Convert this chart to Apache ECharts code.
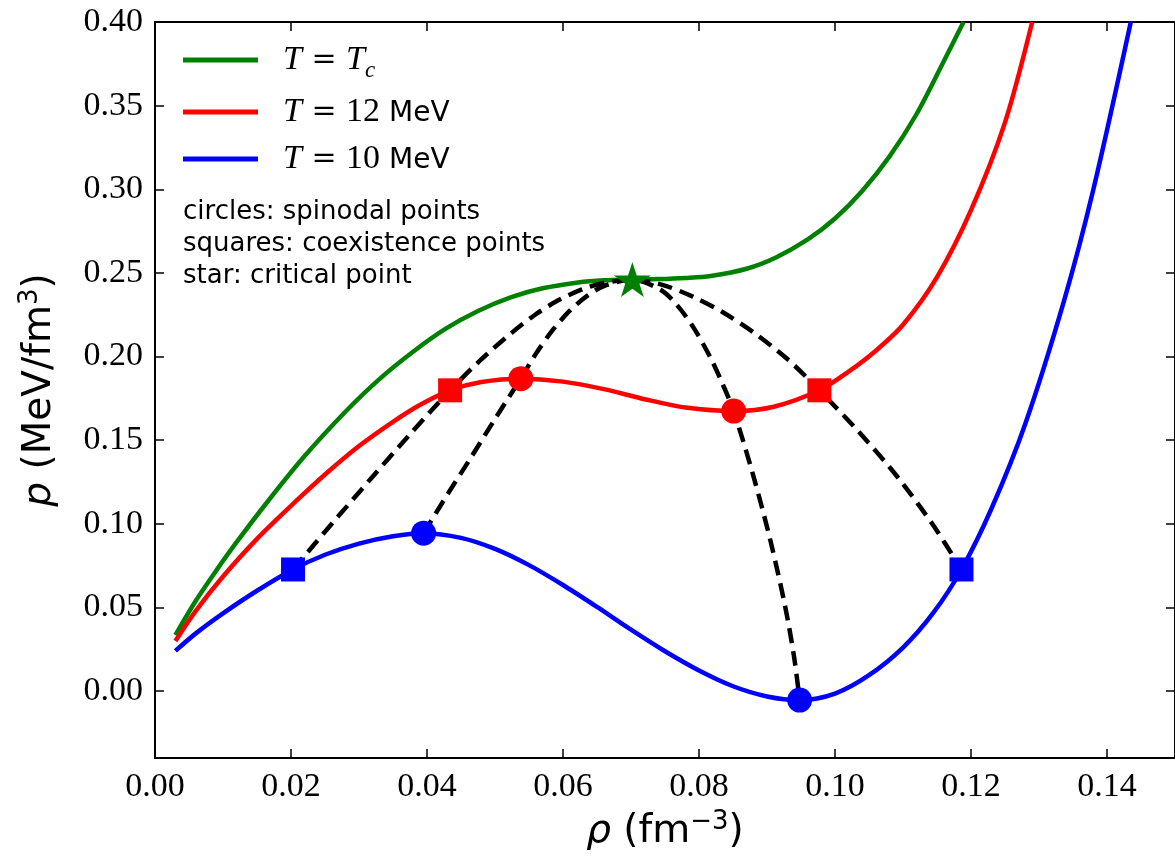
<!DOCTYPE html>
<html>
<head>
<meta charset="utf-8">
<script src="https://cdn.jsdelivr.net/npm/echarts@6/dist/echarts.min.js"></script>
<style>
  html, body { margin: 0; padding: 0; background: #fff; }
  #chart { width: 1175px; height: 859px; }
</style>
</head>
<body>
<div id="chart"></div>
<script>
// Isotherms p(rho) of nuclear matter
const rhoTc = [0.003, 0.006, 0.009, 0.012, 0.0166, 0.022, 0.028, 0.033, 0.038, 0.0427, 0.0475, 0.0524, 0.057, 0.0622, 0.066, 0.0702, 0.074, 0.078, 0.0817, 0.087, 0.0914, 0.096, 0.100, 0.104, 0.108, 0.112, 0.116, 0.1189];
const pTc   = [0.0335, 0.054, 0.072, 0.089, 0.1135, 0.1405, 0.167, 0.1865, 0.203, 0.2165, 0.2272, 0.2355, 0.2408, 0.2443, 0.2456, 0.246, 0.2463, 0.2470, 0.2482, 0.2525, 0.2594, 0.2700, 0.2825, 0.2990, 0.3195, 0.3450, 0.3765, 0.400];

const rho12 = [0.003, 0.006, 0.010, 0.015, 0.0208, 0.025, 0.030, 0.035, 0.039, 0.0434, 0.048, 0.0538, 0.060, 0.066, 0.072, 0.078, 0.0851, 0.091, 0.0977, 0.102, 0.106, 0.110, 0.115, 0.120, 0.125, 0.129];
const p12   = [0.030, 0.048, 0.0685, 0.091, 0.1138, 0.1295, 0.1465, 0.161, 0.1712, 0.1798, 0.1848, 0.1868, 0.1850, 0.1805, 0.1745, 0.1695, 0.1674, 0.1700, 0.1798, 0.191, 0.2035, 0.219, 0.2475, 0.2875, 0.340, 0.400];

const rho10 = [0.003, 0.006, 0.010, 0.015, 0.0203, 0.025, 0.030, 0.035, 0.0395, 0.045, 0.050, 0.055, 0.060, 0.065, 0.070, 0.075, 0.080, 0.085, 0.090, 0.0948, 0.100, 0.105, 0.110, 0.1145, 0.1186, 0.123, 0.128, 0.1337, 0.138, 0.1435];
const p10   = [0.024, 0.0345, 0.0465, 0.060, 0.0727, 0.0815, 0.0882, 0.0926, 0.0944, 0.0916, 0.0850, 0.0753, 0.0634, 0.0503, 0.0367, 0.0238, 0.0123, 0.0029, -0.0032, -0.0054, -0.0015, 0.0095, 0.026, 0.047, 0.0727, 0.109, 0.160, 0.2336, 0.300, 0.400];

// Coexistence (binodal) curve through the squares and the critical point
const rhoCoex = [0.0203, 0.0260, 0.0318, 0.0376, 0.0434, 0.0479, 0.0524, 0.0559, 0.0593, 0.0627, 0.0660, 0.0702, 0.0745, 0.0790, 0.0835, 0.0880, 0.0930, 0.0977, 0.1035, 0.1092, 0.1143, 0.1186];
const pCoex   = [0.0727, 0.1000, 0.1272, 0.1540, 0.1798, 0.1980, 0.2140, 0.2250, 0.2336, 0.2400, 0.2440, 0.2460, 0.2430, 0.2360, 0.2265, 0.2145, 0.1985, 0.1798, 0.1550, 0.1280, 0.1000, 0.0727];

// Spinodal curve through the circles and the critical point
const rhoSpin = [0.0395, 0.0430, 0.0466, 0.0502, 0.0538, 0.0560, 0.0585, 0.0610, 0.0635, 0.0660, 0.0702, 0.0744, 0.0768, 0.0792, 0.0817, 0.0836, 0.0851, 0.0879, 0.0905, 0.0927, 0.0940, 0.0948];
const pSpin   = [0.0944, 0.1175, 0.1405, 0.1640, 0.1868, 0.2016, 0.2159, 0.2274, 0.2361, 0.2421, 0.2460, 0.2398, 0.2306, 0.2173, 0.1992, 0.1824, 0.1674, 0.1300, 0.0900, 0.0500, 0.0200, -0.0054];

// Marked points
const spin10 = [[0.0395, 0.0944], [0.0948, -0.0054]];
const spin12 = [[0.0538, 0.1868], [0.0851, 0.1674]];
const coex10 = [[0.0203, 0.0727], [0.1186, 0.0727]];
const coex12 = [[0.0434, 0.1798], [0.0977, 0.1798]];
const critical = [[0.0702, 0.246]];

const xTicks = [0.00, 0.02, 0.04, 0.06, 0.08, 0.10, 0.12, 0.14];
const yTicks = [0.00, 0.05, 0.10, 0.15, 0.20, 0.25, 0.30, 0.35, 0.40];

const zip = (xs, ys) => xs.map((x, i) => [x, ys[i]]);

const GREEN = '#008000', RED = '#ff0000', BLUE = '#0000ff';
const SERIF = 'Liberation Serif';
const SANS = 'DejaVu Sans';
const STAR = 'path://M50,0 L61.2,34.5 L97.6,34.5 L68.2,55.9 L79.4,90.5 L50,69.1 L20.6,90.5 L31.8,55.9 L2.4,34.5 L38.8,34.5 Z';

const chart = echarts.init(document.getElementById('chart'), null, { renderer: 'canvas' });

const tickStyle = { inside: true, length: 9, lineStyle: { color: '#000', width: 1.5 } };
const lineAxis = { show: true, onZero: false, lineStyle: { color: '#000', width: 2 } };

const LH = 44;
const legendRich = {
  t: { fontFamily: SERIF, fontStyle: 'italic', fontSize: 34, color: '#000', lineHeight: LH },
  eq: { fontFamily: 'DejaVu Serif', fontSize: 30, color: '#000', lineHeight: LH },
  r: { fontFamily: SERIF, fontSize: 34, color: '#000', lineHeight: LH },
  sub: { fontFamily: SERIF, fontStyle: 'italic', fontSize: 23, color: '#000', verticalAlign: 'bottom', lineHeight: LH },
  s: { fontFamily: SANS, fontSize: 28, color: '#000', lineHeight: LH, padding: [3, 0, 0, 0] }
};
const legendText = {
  'Tc': '{t|T}{eq| = }{t|T}{sub|c}',
  '12': '{t|T}{eq| = }{r|12}{s| MeV}',
  '10': '{t|T}{eq| = }{r|10}{s| MeV}'
};

const nameRich = {
  i: { fontFamily: SANS, fontStyle: 'italic', fontSize: 39, color: '#000' },
  s: { fontFamily: SANS, fontSize: 39, color: '#000' },
  sup: { fontFamily: SANS, fontSize: 26, color: '#000', verticalAlign: 'top', lineHeight: 46 }
};

const lineSeries = (name, data, color) => ({
  name, type: 'line', data, smooth: 0.3, showSymbol: false, symbol: 'none',
  lineStyle: { color, width: 4.5 }, itemStyle: { color }, z: 2, clip: true
});
const dashSeries = (name, data) => ({
  name, type: 'line', data, smooth: 0.3, showSymbol: false, symbol: 'none',
  lineStyle: { color: '#000', width: 4.5, type: [15, 8] }, z: 3, clip: true
});
const markSeries = (name, data, color, symbol, size) => ({
  name, type: 'scatter', data, symbol, symbolSize: size,
  itemStyle: { color, opacity: 1 }, z: 5
});

chart.setOption({
  animation: false,
  backgroundColor: '#fff',
  grid: { left: 155, top: 22, width: 1026, height: 736, containLabel: false },
  xAxis: [
    {
      type: 'value', min: 0, max: 0.15, position: 'bottom',
      axisLine: lineAxis, splitLine: { show: false },
      axisTick: Object.assign({ customValues: xTicks }, tickStyle),
      axisLabel: { customValues: xTicks, formatter: v => v.toFixed(2), fontFamily: SERIF, fontSize: 34, color: '#000', margin: 12 },
      name: '{i|ρ}{s| (fm}{sup|−3}{s|)}', nameLocation: 'middle', nameGap: 50,
      nameTextStyle: { rich: nameRich }
    },
    {
      type: 'value', min: 0, max: 0.15, position: 'top',
      axisLine: lineAxis, splitLine: { show: false },
      axisTick: Object.assign({ customValues: xTicks }, tickStyle),
      axisLabel: { show: false }
    }
  ],
  yAxis: [
    {
      type: 'value', min: -0.04, max: 0.40, position: 'left',
      axisLine: lineAxis, splitLine: { show: false },
      axisTick: Object.assign({ customValues: yTicks }, tickStyle),
      axisLabel: { customValues: yTicks, formatter: v => v.toFixed(2), fontFamily: SERIF, fontSize: 34, color: '#000', margin: 12 },
      name: '{i|p}{s| (MeV/fm}{sup|3}{s|)}', nameLocation: 'middle', nameGap: 92, nameRotate: 90,
      nameTextStyle: { rich: nameRich }
    },
    {
      type: 'value', min: -0.04, max: 0.40, position: 'right',
      axisLine: lineAxis, splitLine: { show: false },
      axisTick: Object.assign({ customValues: yTicks }, tickStyle),
      axisLabel: { show: false }
    }
  ],
  legend: {
    data: ['Tc', '12', '10'].map(n => ({ name: n, icon: 'rect' })),
    orient: 'vertical', left: 183, top: 43, padding: 0,
    itemWidth: 75, itemHeight: 5, itemGap: 13,
    formatter: n => legendText[n],
    textStyle: { rich: legendRich, padding: [0, 0, 0, 20] },
    selectedMode: false
  },
  graphic: [
    {
      type: 'text', left: 183, top: 196,
      style: {
        text: 'circles: spinodal points\nsquares: coexistence points\nstar: critical point',
        font: '26px "DejaVu Sans"', fill: '#000', lineHeight: 32
      }
    }
  ],
  series: [
    lineSeries('Tc', zip(rhoTc, pTc), GREEN),
    lineSeries('12', zip(rho12, p12), RED),
    lineSeries('10', zip(rho10, p10), BLUE),
    dashSeries('coexistence', zip(rhoCoex, pCoex)),
    dashSeries('spinodal', zip(rhoSpin, pSpin)),
    markSeries('coex12', coex12, RED, 'rect', 24),
    markSeries('coex10', coex10, BLUE, 'rect', 24),
    markSeries('spin12', spin12, RED, 'circle', 25),
    markSeries('spin10', spin10, BLUE, 'circle', 25),
    markSeries('critical', critical, GREEN, STAR, [37, 35])
  ]
});
</script>
</body>
</html>
